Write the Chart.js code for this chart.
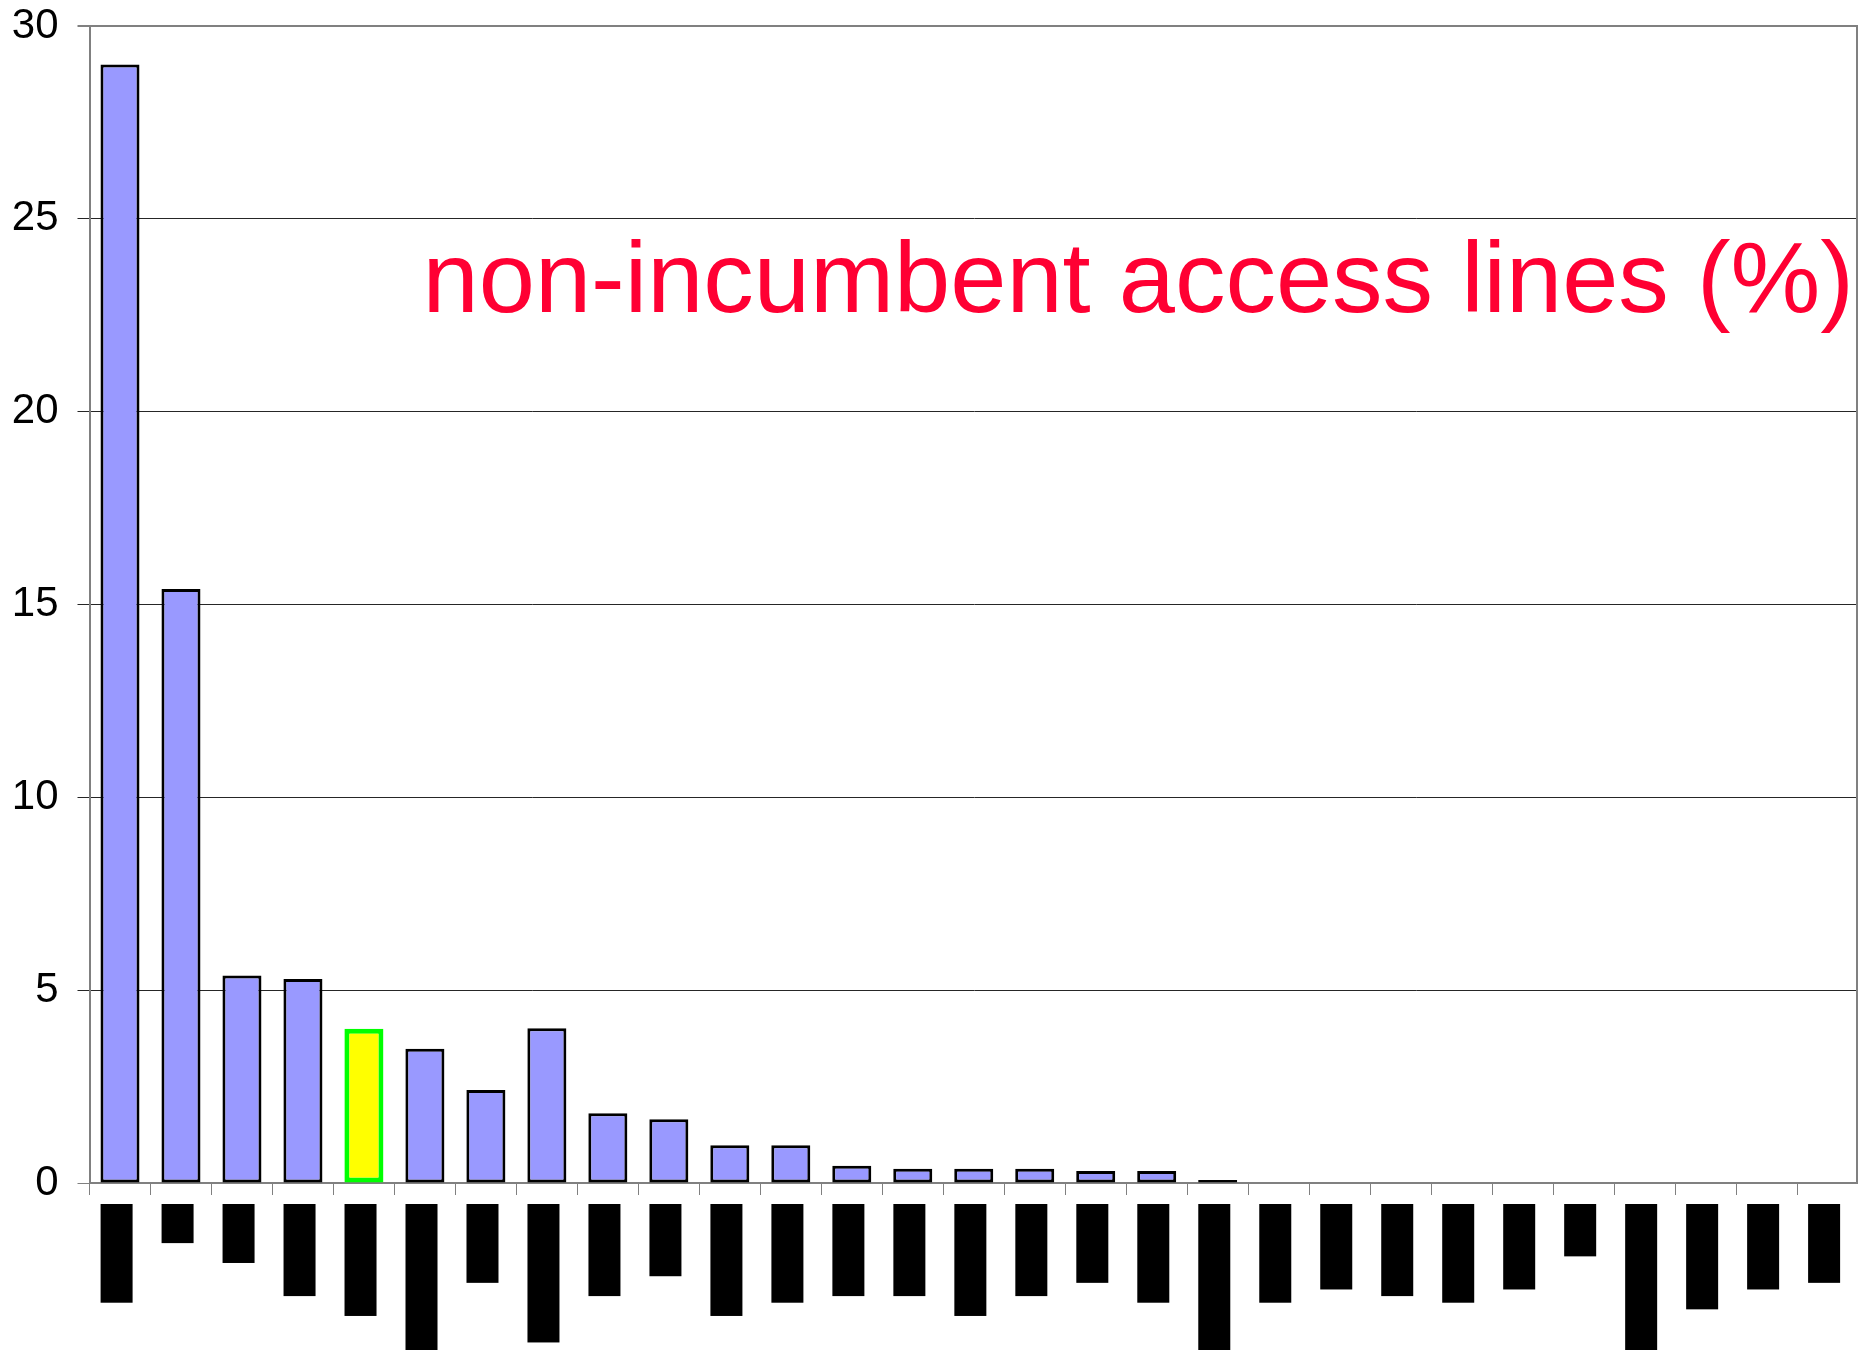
<!DOCTYPE html>
<html>
<head>
<meta charset="utf-8">
<title>non-incumbent access lines (%)</title>
<script src="https://cdn.jsdelivr.net/npm/chart.js@4.4.1/dist/chart.umd.min.js"></script>
<style>
  html, body { margin: 0; padding: 0; background: #ffffff; overflow: hidden; }
  #wrap { position: relative; width: 1858px; height: 1350px; }
</style>
</head>
<body>
<div id="wrap"><canvas id="chart"></canvas></div>
<script>
// Category names are printed redacted, as solid black blocks.
const categories = [
  '██████████████',
  '█████',
  '████████',
  '█████████████',
  '████████████████',
  '████████████████████████',
  '███████████',
  '████████████████████',
  '█████████████',
  '██████████',
  '████████████████',
  '██████████████',
  '█████████████',
  '█████████████',
  '████████████████',
  '█████████████',
  '███████████',
  '██████████████',
  '████████████████████████',
  '██████████████',
  '████████████',
  '█████████████',
  '██████████████',
  '████████████',
  '███████',
  '████████████████████████',
  '███████████████',
  '████████████',
  '███████████'
];

// Share of access lines held by non-incumbent operators, in percent.
const accessLineShare = [
  29.0, 15.4, 5.38, 5.29, 4.0, 3.48, 2.41, 4.01, 1.81, 1.65,
  0.98, 0.98, 0.45, 0.37, 0.37, 0.37, 0.31, 0.31, 0.08,
  null, null, null, null, null, null, null, null, null, null
];

// The highlighted category.
const highlightIndex = 4;

const yTicks = [0, 5, 10, 15, 20, 25, 30];
const chartTitle = 'non-incumbent access lines (%)';

const captionPlugin = {
  id: 'caption',
  afterDatasetsDraw(chart) {
    const { ctx, chartArea } = chart;
    ctx.save();
    // right edge of the plot frame
    ctx.strokeStyle = '#808080';
    ctx.lineWidth = 2;
    ctx.beginPath();
    ctx.moveTo(chartArea.right - 1, chartArea.top);
    ctx.lineTo(chartArea.right - 1, chartArea.bottom);
    ctx.stroke();
    // caption inside the plot
    ctx.font = '101px "Liberation Sans", Arial, sans-serif';
    ctx.fillStyle = '#FF0033';
    ctx.textAlign = 'right';
    ctx.textBaseline = 'alphabetic';
    ctx.fillText(chartTitle, chartArea.right - 4, chartArea.top + 286);
    ctx.restore();
  }
};

new Chart(document.getElementById('chart'), {
  type: 'bar',
  data: {
    labels: categories,
    datasets: [{
      data: accessLineShare,
      backgroundColor: ctx => ctx.dataIndex === highlightIndex ? '#FFFF00' : '#9999FF',
      borderColor: ctx => ctx.dataIndex === highlightIndex ? '#00FF00' : '#000000',
      borderWidth: ctx => ctx.dataIndex === highlightIndex ? 5 : 3,
      borderSkipped: false,
      barPercentage: 0.64,
      categoryPercentage: 1.0
    }]
  },
  options: {
    responsive: true,
    maintainAspectRatio: false,
    animation: false,
    layout: { padding: { top: 26, left: 0, right: 0, bottom: 0 } },
    plugins: {
      legend: { display: false },
      tooltip: { enabled: false }
    },
    scales: {
      x: {
        offset: true,
        grid: {
          offset: true,
          drawOnChartArea: false,
          drawTicks: true,
          tickLength: 12,
          color: '#808080',
          lineWidth: 1
        },
        border: { color: '#808080', width: 2 },
        ticks: {
          autoSkip: false,
          minRotation: 90,
          maxRotation: 90,
          font: { family: 'DejaVu Sans Mono', size: 11 },
          color: '#000000',
          padding: 12,
          labelOffset: -10,
          showLabelBackdrop: true,
          backdropColor: '#000000',
          backdropPadding: { top: 9.4, bottom: 9.4, left: 3, right: 3 }
        },
        afterFit(scale) {
          scale.height = 167;
          scale.paddingLeft = 0;
          scale.paddingRight = 0;
        }
      },
      y: {
        min: 0,
        max: 30,
        afterBuildTicks(scale) { scale.ticks = yTicks.map(v => ({ value: v })); },
        grid: {
          color: ctx => (ctx.tick && (ctx.tick.value === 30 || ctx.tick.value === 0)) ? '#808080' : '#262626',
          lineWidth: ctx => (ctx.tick && ctx.tick.value === 30) ? 2 : 1,
          tickLength: 12,
          drawTicks: true
        },
        border: { color: '#808080', width: 2 },
        ticks: {
          font: { family: 'Liberation Sans', size: 42 },
          color: '#000000',
          padding: 19
        },
        afterFit(scale) {
          scale.width = 89.5;
          scale.paddingTop = 0;
          scale.paddingBottom = 0;
        }
      }
    }
  },
  plugins: [captionPlugin]
});
</script>
</body>
</html>
